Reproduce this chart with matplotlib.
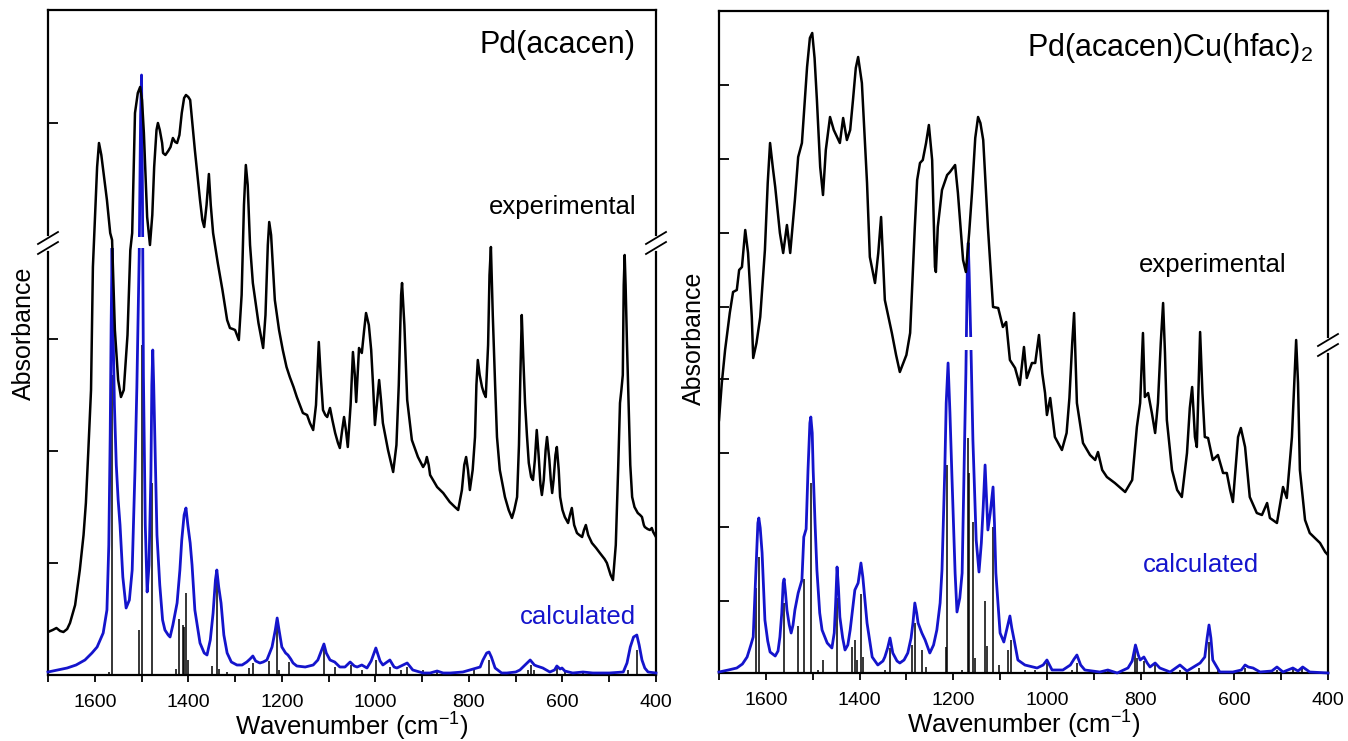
import numpy as np
import matplotlib
matplotlib.use('Agg')
import matplotlib.pyplot as plt
from matplotlib.lines import Line2D
from matplotlib.patches import Rectangle

plt.rcParams['font.family'] = ['Liberation Sans', 'DejaVu Sans']
plt.rcParams['mathtext.fontset'] = 'custom'
plt.rcParams['mathtext.rm'] = 'Liberation Sans'
plt.rcParams['mathtext.it'] = 'Liberation Sans:italic'
plt.rcParams['mathtext.bf'] = 'Liberation Sans:bold'

BLUE = '#1414cc'

# ---------------- Pd(acacen) : experimental ----------------
exp1_wn = [1700, 1690, 1682, 1674, 1667, 1659, 1653, 1642, 1632, 1624, 1619, 1614, 1608, 1604, 1595, 1591,
           1586, 1582, 1574, 1567, 1563, 1557, 1550, 1544, 1538, 1530, 1524, 1520, 1514, 1508, 1503, 1499,
           1495, 1488, 1482, 1477, 1473, 1468, 1465, 1461, 1456, 1454, 1449, 1443, 1438, 1433, 1428, 1424,
           1419, 1414, 1409, 1405, 1400, 1396, 1386, 1375, 1370, 1366, 1361, 1356, 1352, 1347, 1337, 1327,
           1317, 1311, 1305, 1300, 1292, 1286, 1281, 1277, 1273, 1268, 1262, 1250, 1240, 1235, 1230, 1227,
           1223, 1215, 1206, 1198, 1190, 1183, 1175, 1168, 1160, 1155, 1146, 1140, 1133, 1127, 1121, 1117,
           1112, 1107, 1103, 1097, 1092, 1086, 1080, 1076, 1071, 1067, 1063, 1059, 1053, 1048, 1044, 1041,
           1038, 1035, 1029, 1024, 1020, 1014, 1009, 1005, 1001, 997, 992, 988, 984, 973, 962, 955, 950,
           945, 943, 938, 932, 922, 909, 898, 893, 890, 886, 883, 868, 855, 841, 830, 823, 815, 810, 806,
           802, 798, 792, 787, 784, 781, 777, 772, 768, 764, 759, 756, 753, 749, 744, 740, 734, 723, 715,
           708, 703, 697, 693, 690, 687, 684, 680, 676, 672, 667, 663, 659, 655, 651, 647, 644, 640, 636,
           633, 628, 625, 622, 619, 615, 612, 608, 605, 600, 595, 588, 584, 580, 575, 569, 564, 558, 554,
           550, 545, 537, 528, 520, 510, 505, 497, 492, 486, 481, 477, 474, 471, 469, 467, 465, 462, 458,
           455, 451, 446, 439, 434, 430, 426, 424, 418, 413, 409, 406, 400]
exp1_a = [43, 45, 47, 44, 43, 46, 52, 70, 105, 140, 172, 222, 285, 408, 508, 532,
          520, 505, 475, 442, 435, 345, 295, 278, 285, 340, 425, 442, 562, 582, 588, 575,
          542, 458, 430, 460, 508, 545, 552, 545, 532, 522, 520, 524, 528, 537, 533, 532,
          540, 562, 577, 580, 578, 575, 525, 475, 455, 448, 470, 501, 470, 442, 412, 385,
          355, 347, 346, 345, 335, 380, 470, 510, 490, 430, 392, 352, 327, 360, 430, 453,
          440, 375, 345, 325, 308, 298, 288, 278, 268, 262, 260, 252, 245, 270, 333, 300,
          265, 260, 258, 267, 255, 242, 232, 227, 245, 258, 245, 228, 270, 323, 300, 273,
          300, 327, 322, 345, 362, 350, 325, 290, 250, 270, 295, 275, 252, 225, 203, 230, 290,
          380, 392, 350, 275, 235, 218, 208, 212, 218, 210, 200, 188, 182, 173, 168, 165, 185, 210, 218,
          205, 185, 205, 238, 290, 315, 300, 288, 282, 278, 330, 400, 428, 360, 290, 238, 205, 178, 165,
          157, 165, 178, 230, 300, 360, 320, 272, 240, 212, 198, 195, 215, 245, 220, 190, 180, 195, 225,
          238, 215, 195, 182, 195, 220, 228, 205, 178, 165, 158, 152, 160, 167, 150, 142, 140, 138, 145,
          150, 140, 132, 127, 122, 116, 112, 100, 95, 130, 205, 272, 285, 300, 390, 420, 390, 330, 260,
          210, 178, 168, 162, 160, 158, 150, 148, 146, 145, 147, 143, 138]

# ---------------- Pd(acacen) : calculated envelope ----------------
calc1_wn = [1700, 1680, 1659, 1640, 1621, 1606, 1595, 1582, 1574, 1570, 1567, 1565, 1563, 1561, 1558, 1554,
            1550, 1546, 1540, 1533, 1526, 1520, 1514, 1510, 1505, 1502, 1500, 1498, 1496, 1492, 1488, 1484,
            1480, 1478, 1476, 1474, 1470, 1467, 1461, 1455, 1450, 1443, 1439, 1433, 1424, 1418, 1414, 1409,
            1405, 1401, 1396, 1392, 1386, 1375, 1366, 1360, 1353, 1347, 1342, 1339, 1335, 1330, 1324, 1317,
            1308, 1296, 1285, 1275, 1268, 1262, 1256, 1247, 1240, 1232, 1221, 1214, 1210, 1206, 1200, 1192,
            1187, 1181, 1176, 1168, 1150, 1133, 1123, 1115, 1110, 1105, 1097, 1087, 1076, 1065, 1054, 1045,
            1039, 1029, 1018, 1009, 999, 990, 984, 969, 960, 954, 945, 932, 925, 920, 898, 883, 868, 855,
            840, 813, 791, 776, 770, 762, 757, 752, 744, 730, 719, 700, 691, 680, 669, 660, 655, 642, 627,
            617, 612, 605, 601, 595, 578, 556, 535, 500, 470, 462, 455, 448, 441, 436, 430, 424, 417, 400]
calc1_a = [3, 5, 7, 10, 15, 22, 28, 42, 65, 130, 240, 350, 427, 350, 270, 210,
           175, 150, 98, 67, 75, 105, 205, 288, 420, 560, 600, 480, 300, 150, 83, 110,
           200, 290, 325, 290, 205, 140, 90, 55, 45, 40, 38, 50, 72, 105, 135, 160,
           167, 150, 132, 110, 65, 32, 22, 20, 35, 62, 95, 105, 88, 72, 40, 22,
           13, 10, 10, 13, 16, 19, 14, 12, 13, 15, 28, 45, 57, 45, 28, 22,
           20, 16, 12, 9, 8, 10, 15, 25, 31, 22, 15, 13, 8, 8, 13, 9,
           8, 10, 7, 14, 27, 14, 10, 15, 8, 7, 9, 12, 8, 5, 2, 2, 4, 2,
           2, 3, 6, 8, 15, 22, 23, 18, 7, 2, 2, 3, 5, 10, 15, 10, 9, 7, 3,
           5, 9, 6, 7, 4, 2, 3, 2, 2, 3, 12, 28, 38, 40, 30, 15, 7, 3, 2]

# ---------------- Pd(acacen) : computed line positions (sticks) ----------------
stick1_wn = [1570, 1563, 1505, 1500, 1477, 1426, 1420, 1411, 1409, 1405, 1401, 1349, 1339, 1334, 1317,
             1270, 1262, 1227, 1210, 1206, 1185, 1110, 1086, 1052, 1029, 999, 969, 945, 932, 898, 868,
             789, 757, 674, 667, 661, 612, 595, 556, 460, 441]
stick1_a = [3, 300, 45, 330, 192, 6, 56, 50, 48, 82, 15, 9, 105, 6, 3,
            7, 12, 14, 50, 5, 13, 32, 8, 10, 5, 15, 8, 5, 8, 5, 3,
            5, 15, 5, 10, 5, 8, 5, 3, 5, 25]

# ---------------- Pd(acacen)Cu(hfac)2 : experimental ----------------
exp2_wn = [1700, 1694, 1687, 1677, 1670, 1662, 1657, 1651, 1644, 1638, 1630, 1627, 1620, 1612, 1602, 1596,
           1591, 1585, 1580, 1570, 1563, 1555, 1548, 1538, 1531, 1523, 1512, 1506, 1501, 1496, 1491, 1484,
           1478, 1472, 1463, 1455, 1442, 1435, 1427, 1420, 1414, 1408, 1403, 1395, 1384, 1378, 1367, 1360,
           1354, 1346, 1331, 1322, 1314, 1300, 1292, 1282, 1277, 1271, 1265, 1258, 1252, 1245, 1239, 1237,
           1233, 1224, 1213, 1207, 1196, 1190, 1179, 1173, 1166, 1160, 1153, 1147, 1142, 1136, 1126, 1115,
           1104, 1094, 1087, 1079, 1068, 1058, 1049, 1043, 1032, 1025, 1017, 1010, 1004, 1000, 993, 983,
           968, 958, 952, 946, 942, 938, 936, 923, 908, 897, 891, 882, 872, 855, 833, 818, 808, 801,
           795, 791, 784, 776, 769, 763, 757, 752, 748, 744, 733, 722, 712, 701, 695, 690, 684, 680,
           676, 673, 668, 663, 656, 646, 635, 624, 616, 609, 603, 592, 586, 577, 567, 552, 541, 530,
           524, 509, 496, 488, 477, 472, 468, 464, 460, 449, 439, 428, 417, 406, 400]
exp2_a = [253, 290, 323, 360, 381, 383, 403, 406, 443, 420, 356, 315, 330, 356, 423, 490,
          530, 505, 486, 440, 420, 448, 420, 473, 516, 530, 606, 635, 640, 615, 573, 506,
          478, 523, 556, 543, 530, 555, 533, 543, 573, 605, 616, 590, 490, 416, 390, 420,
          456, 373, 340, 318, 301, 318, 340, 446, 493, 510, 513, 530, 548, 513, 406, 401,
          446, 483, 498, 501, 508, 480, 413, 401, 440, 480, 535, 556, 550, 533, 446, 366,
          365, 346, 351, 313, 305, 288, 326, 295, 310, 310, 338, 300, 280, 258, 275, 236,
          223, 240, 275, 330, 360, 300, 270, 230, 218, 213, 221, 203, 196, 190, 181, 193, 246, 270,
          340, 276, 280, 260, 240, 270, 330, 370, 320, 253, 203, 183, 176, 220, 265, 286, 236, 226,
          290, 341, 280, 236, 235, 213, 218, 200, 200, 183, 171, 236, 245, 226, 176, 160, 158, 170,
          155, 150, 186, 175, 236, 290, 333, 290, 203, 153, 140, 135, 130, 121, 118]

# ---------------- Pd(acacen)Cu(hfac)2 : calculated envelope ----------------
calc2_wn = [1700, 1680, 1662, 1650, 1640, 1632, 1627, 1621, 1617, 1615, 1612, 1608, 1602, 1596, 1591, 1580,
            1574, 1570, 1566, 1563, 1561, 1558, 1555, 1550, 1546, 1542, 1538, 1531, 1523, 1519, 1514, 1510,
            1506, 1504, 1501, 1499, 1495, 1491, 1485, 1480, 1469, 1459, 1454, 1451, 1448, 1445, 1442, 1436,
            1431, 1425, 1420, 1410, 1403, 1397, 1393, 1388, 1384, 1373, 1361, 1350, 1346, 1340, 1335, 1331,
            1329, 1320, 1314, 1305, 1297, 1290, 1286, 1282, 1278, 1275, 1267, 1260, 1250, 1242, 1235, 1228,
            1224, 1218, 1215, 1211, 1207, 1203, 1196, 1192, 1186, 1181, 1177, 1173, 1170, 1168, 1166, 1162,
            1158, 1151, 1145, 1140, 1136, 1132, 1129, 1126, 1121, 1115, 1112, 1109, 1100, 1092, 1085, 1079,
            1075, 1070, 1062, 1047, 1021, 1008, 1000, 989, 966, 950, 942, 936, 928, 919, 887, 870, 850,
            827, 818, 811, 805, 801, 793, 786, 780, 769, 759, 737, 716, 701, 680, 673, 663, 658, 654, 650,
            646, 631, 603, 585, 577, 570, 560, 545, 520, 509, 496, 475, 464, 454, 439, 400]
calc2_a = [1, 3, 5, 9, 16, 28, 36, 103, 150, 155, 145, 120, 53, 32, 21, 17,
           22, 36, 60, 90, 94, 80, 63, 48, 40, 48, 63, 80, 93, 136, 144, 203,
           250, 256, 240, 203, 150, 103, 60, 43, 30, 25, 40, 70, 106, 85, 56, 35,
           23, 28, 43, 83, 90, 110, 96, 70, 50, 16, 8, 12, 16, 25, 35, 25,
           20, 12, 10, 13, 20, 35, 50, 70, 60, 50, 40, 33, 20, 28, 43, 70,
           103, 203, 270, 310, 260, 200, 100, 61, 75, 100, 200, 300, 400, 430, 400, 323,
           233, 133, 101, 130, 166, 208, 175, 143, 160, 186, 150, 100, 40, 31, 45, 57,
           45, 33, 13, 8, 5, 8, 13, 3, 3, 8, 14, 18, 8, 3, 1, 3, 0,
           5, 12, 28, 18, 13, 16, 10, 6, 10, 5, 1, 8, 2, 8, 10, 16, 35, 48, 35,
           13, 1, 1, 3, 8, 6, 5, 1, 2, 6, 1, 5, 2, 6, 1, 0]

# ---------------- Pd(acacen)Cu(hfac)2 : computed line positions (sticks) ----------------
stick2_wn = [1621, 1615, 1561, 1531, 1519, 1504, 1489, 1478, 1448, 1416, 1410, 1405, 1397, 1393, 1346,
             1335, 1288, 1282, 1267, 1258, 1216, 1213, 1181, 1168, 1166, 1158, 1154, 1132, 1128, 1115,
             1102, 1083, 1077, 1047, 1025, 1000, 946, 936, 870, 812, 808, 793, 769, 716, 675, 654, 635,
             577, 509, 475, 455]
stick2_a = [85, 116, 70, 47, 94, 190, 3, 13, 75, 26, 33, 13, 79, 16, 3,
            25, 28, 50, 23, 6, 26, 208, 3, 235, 200, 151, 15, 72, 27, 146,
            8, 23, 33, 3, 3, 10, 3, 10, 3, 22, 15, 12, 8, 3, 5, 31, 3,
            5, 3, 5, 5]

W, H = 1348, 741
fig = plt.figure(figsize=(W / 100, H / 100), dpi=100)
ax1 = fig.add_axes([48 / W, 1 - 675 / H, 608 / W, 665 / H])
ax2 = fig.add_axes([719 / W, 1 - 673 / H, 609 / W, 662 / H])


def draw_panel(ax, ewn, ea, cwn, ca, swn, sa, ytop, gap, yticks):
    ax.set_xlim(1700, 400)
    ax.set_ylim(0, ytop)
    ax.vlines(swn, 0, sa, color='black', lw=1.1, zorder=2)
    for lo, hi in ((-50, gap[0]), (gap[1], ytop + 50)):
        ln, = ax.plot(cwn, ca, color=BLUE, lw=2.0, zorder=3, solid_joinstyle='round')
        ln.set_clip_path(Rectangle((300, lo), 1500, hi - lo, transform=ax.transData))
    ax.plot(ewn, ea, color='black', lw=1.8, zorder=4, solid_joinstyle='round')
    for s in ax.spines.values():
        s.set_linewidth(1.6)
    ax.set_xticks([1600, 1400, 1200, 1000, 800, 600, 400])
    ax.set_xticks([1700, 1500, 1300, 1100, 900, 700, 500], minor=True)
    ax.tick_params(axis='x', which='both', direction='out', length=5, width=1.3,
                   labelsize=14, pad=8.5, top=False)
    ax.set_yticks(yticks)
    ax.set_yticklabels([])
    ax.tick_params(axis='y', which='both', direction='in', length=7.5, width=1.3,
                   right=False, left=True)
    ax.set_xlabel('Wavenumber (cm$^{-1}$)', fontsize=18.5, labelpad=0)


draw_panel(ax1, exp1_wn, exp1_a, calc1_wn, calc1_a, stick1_wn, stick1_a, 665, (427, 438),
           [112, 224, 336, 552])
draw_panel(ax2, exp2_wn, exp2_a, calc2_wn, calc2_a, stick2_wn, stick2_a, 662, (323, 336),
           [72, 146, 220, 294, 366, 440, 514, 588])


def fig_px(x, y):
    return x / W, 1 - y / H


def break_mark(ax, xfrac, yval):
    xd = ax.transAxes.transform((xfrac, 0))[0]
    yd = ax.transData.transform((0, yval))[1]
    inv = fig.transFigure.inverted()
    # white gap in spine
    p = inv.transform([(xd, yd - 5), (xd, yd + 5)])
    fig.add_artist(Line2D(p[:, 0], p[:, 1], color='white', lw=3.5, transform=fig.transFigure, zorder=10))
    for dy in (-5, 5):
        p = inv.transform([(xd - 10, yd + dy - 6), (xd + 10, yd + dy + 6)])
        fig.add_artist(Line2D(p[:, 0], p[:, 1], color='black', lw=1.3, transform=fig.transFigure, zorder=11))


break_mark(ax1, 0.0, 432)
break_mark(ax1, 1.0, 432)
break_mark(ax2, 1.0, 328)

fig.text(*fig_px(24, 333), 'Absorbance', rotation=90, ha='center', va='center', fontsize=18)
fig.text(*fig_px(694, 338), 'Absorbance', rotation=90, ha='center', va='center', fontsize=18)

fig.text(*fig_px(636, 45), 'Pd(acacen)', ha='right', va='center', fontsize=22)
fig.text(*fig_px(636, 207), 'experimental', ha='right', va='center', fontsize=18.5)
fig.text(*fig_px(636, 617), 'calculated', ha='right', va='center', fontsize=18.5, color=BLUE)

fig.text(*fig_px(1313, 48), 'Pd(acacen)Cu(hfac)$_2$', ha='right', va='center', fontsize=22)
fig.text(*fig_px(1286, 265), 'experimental', ha='right', va='center', fontsize=18.5)
fig.text(*fig_px(1259, 565), 'calculated', ha='right', va='center', fontsize=18.5, color=BLUE)

fig.savefig('out.png', dpi=100)
